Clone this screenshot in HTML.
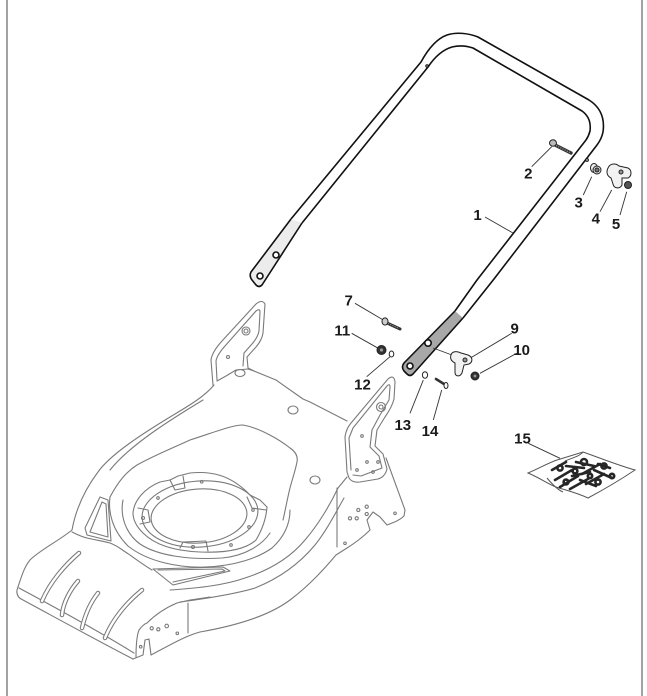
<!DOCTYPE html>
<html><head><meta charset="utf-8">
<style>
html,body{margin:0;padding:0;background:#fff;}
svg{display:block;}
text{font-family:"Liberation Sans",Arial,sans-serif;font-weight:bold;font-size:15px;fill:#1a1a1a;}
</style></head><body>
<svg width="647" height="696" viewBox="0 0 647 696" xmlns="http://www.w3.org/2000/svg">
<rect width="647" height="696" fill="#fff"/>
<line x1="7" y1="0" x2="7" y2="696" stroke="#8a8a8a" stroke-width="1.6"/>
<line x1="642" y1="0" x2="642" y2="696" stroke="#8a8a8a" stroke-width="1.6"/>

<!-- DECK -->
<g fill="none" stroke="#7a7a7a" stroke-width="1.1" stroke-linejoin="round" stroke-linecap="round">
  <!-- left bracket -->
  <path d="M213,385 L211,360 Q212,352 222,341 L256,304 Q262,299 265,304 L263,333 Q262,340 256,347 L247,357 L248,368 L254,371"/>
  <path d="M217,380 L216,361 Q217,355 225,346 L256,311 Q260,308 260,312 L259,331 Q258,337 252,344 L244,353 L243,366"/>
  <circle cx="246" cy="331" r="4"/><circle cx="246" cy="331" r="2"/>
  <circle cx="228" cy="357" r="1.5"/>
  <!-- rear edge -->
  <path d="M217,381 L226,376 L236,370 L248,369 L254,371 L276,380 L303,399 L310,402 L347,421"/>
  <ellipse cx="240" cy="373" rx="5" ry="3.5"/>
  <ellipse cx="293" cy="410" rx="5" ry="4"/>
  <ellipse cx="315" cy="480" rx="5" ry="4"/>
  <!-- left outer rim -->
  <path d="M214,385 C205,396 190,405 175,414 C140,435 110,455 98,472 C86,488 76,508 72,530 C60,540 40,550 30,560 C24,567 21,578 17,590"/>
  <path d="M203,400 C170,420 130,445 110,470"/>
  <!-- front lip -->
  <path d="M17,590 Q16,597 23,600 C60,620 100,642 133,659"/>
  <path d="M19,588 C60,610 100,632 134,653"/>
  <!-- front-right lower edge & skirt -->
  <path d="M133,659 L143,655 L145,640 L149,639 L151,655 C170,645 185,636 200,632 C240,625 270,615 290,600 C310,585 325,568 336,555 L347,548 C355,543 362,538 370,530 L367,520 L373,512 L380,517 L387,525 C395,522 400,520 404,516 L405,510 L386,458"/>
  <path d="M337,488 L337,547"/>
  <path d="M188,603 L188,633"/>
  <path d="M136,657 C136,645 137,635 139,630 C142,626 144,624 147,623 C155,615 165,608 177,603 L190,600 L210,597"/>
  <path d="M72,532 C78,535 82,537 87,538 C95,540 103,541 110,543 C118,546 122,550 127,553 C137,560 145,566 152,570"/>
  <!-- rim curves -->
  <path d="M170,590 C200,588 225,585 245,578 C270,570 290,558 305,540 C318,525 330,505 338,488 L347,477"/>
  <path d="M180,602 C210,598 235,594 255,588 C280,578 300,563 315,545 C327,530 336,512 344,498"/>
  <!-- bowl -->
  <path d="M110,497 C118,482 126,472 137,465 C155,455 175,447 190,440 C215,432 232,425 243,425 C260,428 280,440 290,448 C296,452 298,457 297,462 C295,472 292,480 290,488 C287,500 285,512 283,520"/>
  <path d="M110,497 C108,512 112,530 128,546 C148,562 180,568 205,567 C235,566 258,558 272,548 C283,538 290,525 290,510"/>
  <path d="M123,500 C120,515 125,533 140,544 C158,556 190,560 222,558 C245,556 262,545 270,533"/>
  <!-- ring -->
  <path d="M133,513 C134,500 145,488 160,482 L170,480 L178,476 L190,473 C210,471 230,474 250,495 L260,500 L267,507 C266,520 262,530 256,540 C245,550 225,553 200,552 C175,551 155,545 143,533 C136,526 133,520 133,513 Z"/>
  <ellipse cx="200" cy="514" rx="58" ry="33" transform="rotate(-4 200 514)"/>
  <ellipse cx="199" cy="516" rx="48" ry="27" transform="rotate(-4 199 516)"/>
  <path d="M170,480 L175,490 L185,488 L183,476"/>
  <path d="M247,497 L252,508 L266,510"/>
  <path d="M180,548 L183,542 L206,541 L208,551"/>
  <path d="M138,508 L148,510 L150,522 L140,524"/>
  <circle cx="201.7" cy="481.7" r="1.3"/><circle cx="253" cy="510" r="1.3"/><circle cx="249" cy="527" r="1.3"/>
  <circle cx="231" cy="545" r="1.3"/><circle cx="158" cy="498" r="1.3"/><circle cx="193" cy="547" r="1.5"/><circle cx="143" cy="518" r="1.5"/>
  <!-- front vent -->
  <path d="M153,569 L223,567 L230,571 L173,585 Z"/>
  <path d="M158,570 L222,569 L225,571 L173,582"/>
  <!-- left vent -->
  <path d="M100,497 L108,500 L111,541 L87,535 L85,528 Z"/>
  <path d="M102,502 L106,504 L108,537 L90,532 Z"/>
  <!-- holes -->
  <circle cx="151.7" cy="628.3" r="1.6"/><circle cx="158.3" cy="629.3" r="1.6"/><circle cx="166.7" cy="626" r="1.8"/>
  <circle cx="140.7" cy="646.7" r="1.3"/><circle cx="177.3" cy="633.3" r="1.3"/><circle cx="345" cy="543.3" r="1.3"/>
  <circle cx="395" cy="513.3" r="1.3"/>
  <circle cx="350" cy="518.3" r="1.6"/><circle cx="356.7" cy="518.3" r="1.6"/><circle cx="358.3" cy="510" r="1.6"/><circle cx="366.7" cy="506.7" r="1.6"/><circle cx="366.7" cy="514" r="1.6"/>
  <!-- right bracket -->
  <path d="M347,472 L345,437 Q346,429 351,423 L388,379 Q394,374 395,382 L394,399 Q392,407 385,417 L377,430 L375,446 L383,454 L387,469 Q385,477 378,479 L360,482 Q352,483 349,478 Z" fill="#fff"/>
  <path d="M351,470 L349,438 L353,428 L387,386 Q390,383 390,387 L389,400 L380,415 L372,430 L370,447 L379,456 L382,468 L361,476 L353,475"/>
  <circle cx="381" cy="407" r="4.5"/><circle cx="381" cy="407" r="2"/>
  <circle cx="362" cy="436" r="1.3"/><circle cx="367" cy="462" r="1.3"/><circle cx="378" cy="462" r="1.3"/><circle cx="357" cy="470" r="1.3"/><circle cx="373" cy="472" r="1.3"/>
</g>
<!-- slots -->
<g fill="none" stroke-linecap="round">
  <g stroke="#7a7a7a" stroke-width="4.5">
    <path d="M79,553 C65,565 50,582 42,601"/>
    <path d="M78,581 C70,590 63,603 62,615"/>
    <path d="M98,593 C90,603 85,615 82,628"/>
    <path d="M142,590 C126,603 112,620 105,638"/>
  </g>
  <g stroke="#fff" stroke-width="2.4">
    <path d="M79,553 C65,565 50,582 42,601"/>
    <path d="M78,581 C70,590 63,603 62,615"/>
    <path d="M98,593 C90,603 85,615 82,628"/>
    <path d="M142,590 C126,603 112,620 105,638"/>
  </g>
</g>

<!-- HANDLE -->
<g fill="none" stroke="#111" stroke-width="1.6" stroke-linejoin="round">
  <path d="M291,219 L421,62 C427,51 436,39 447,35 C456,32 468,33 478,37 L589,100 C600,107 605,118 603,132 C602,137 600,141 597,145 L494,279 L463,318"/>
  <path d="M302,223 L428,67 C434,58 442,50 452,47 C460,45 467,46 473,48 L582,111 C589,116 591,123 590,131 C589,135 588,137 586,140 L477,280 L455,311"/>
  <path d="M291,219 L251,272 Q249,276 252,280 L256,285 Q259,288 262,285 L302,223" fill="#ececec"/>
  <circle cx="276" cy="255" r="3" fill="#fff"/>
  <circle cx="260" cy="276" r="3" fill="#fff"/>
  <path d="M455,311 L404,363 Q401,367 404,371 L407,374 Q410,377 413,374 L463,318" fill="#a8a8a8"/>
  <circle cx="428" cy="343" r="3.2" fill="#fff"/>
  <circle cx="410" cy="366" r="3" fill="#fff"/>
  <circle cx="587" cy="160" r="1.5" fill="#888" stroke-width="0.8"/>
  <circle cx="427" cy="66" r="1.3" fill="#888" stroke-width="0.8"/>
</g>

<!-- leaders -->
<g stroke="#333" stroke-width="0.9" fill="none">
  <line x1="485" y1="217" x2="513" y2="233"/>
  <line x1="531.7" y1="166.7" x2="551.7" y2="146.7"/>
  <line x1="583.3" y1="195" x2="591.7" y2="176.7"/>
  <line x1="600" y1="211.7" x2="611.7" y2="190"/>
  <line x1="620" y1="215" x2="626.7" y2="191.7"/>
  <line x1="355" y1="303.3" x2="383.3" y2="320"/>
  <line x1="351.7" y1="333.3" x2="378.3" y2="348.3"/>
  <line x1="366.7" y1="376.7" x2="390" y2="356.7"/>
  <line x1="511.7" y1="333.3" x2="470" y2="358.3"/>
  <line x1="516.7" y1="353.3" x2="480" y2="373.3"/>
  <line x1="410" y1="413.3" x2="423.3" y2="380"/>
  <line x1="433.3" y1="420" x2="441.7" y2="390"/>
  <line x1="528.3" y1="443.3" x2="560" y2="458.3"/>
  <line x1="433" y1="348" x2="452" y2="355"/>
</g>

<!-- small parts -->
<g stroke="#222" stroke-width="1">
  <line x1="555" y1="145" x2="571" y2="153" stroke="#333" stroke-width="3.4" stroke-linecap="round"/>
  <line x1="556" y1="145.5" x2="570" y2="152.5" stroke="#aaa" stroke-width="1" stroke-dasharray="1.2 1.2"/>
  <ellipse cx="553" cy="143" rx="3.5" ry="3.2" fill="#bbb"/>
  <ellipse cx="594" cy="168" rx="3.5" ry="4.5" fill="#eee"/>
  <circle cx="597" cy="170" r="4" fill="#ddd"/>
  <circle cx="597" cy="170" r="2" fill="#777"/>
  <path d="M608,168 C610,163 616,163 619,166 L628,168 C632,170 632,176 628,178 L622,178 L622,185 C620,189 614,189 613,184 L611,178 C607,176 606,172 608,168 Z" fill="#f2f2f2"/>
  <circle cx="621" cy="172" r="2" fill="#999"/>
  <circle cx="628" cy="185" r="3.5" fill="#555"/>
  <line x1="387" y1="323" x2="400" y2="329" stroke="#333" stroke-width="3" stroke-linecap="round"/>
  <line x1="388" y1="323.5" x2="399" y2="328.5" stroke="#aaa" stroke-width="0.9" stroke-dasharray="1.2 1.2"/>
  <ellipse cx="385" cy="321.5" rx="3" ry="3.6" fill="#ccc"/>
  <circle cx="381.5" cy="350" r="4.5" fill="#333"/>
  <circle cx="381.5" cy="350" r="1.6" fill="#999" stroke="none"/>
  <ellipse cx="391.5" cy="354" rx="2.3" ry="3" fill="#fff"/>
  <ellipse cx="425" cy="375" rx="2.6" ry="3.2" fill="#fff"/>
  <line x1="436" y1="379" x2="444" y2="384" stroke="#333" stroke-width="2.6" stroke-linecap="round"/>
  <ellipse cx="446" cy="385.5" rx="2" ry="3" fill="#fff"/>
  <path d="M451,355 C452,351 457,351 461,353 L468,355 C473,357 473,362 469,364 L464,365 L462,373 C460,377 455,377 455,372 L455,363 C451,361 450,358 451,355 Z" fill="#f2f2f2"/>
  <circle cx="465" cy="360" r="2" fill="#999"/>
  <circle cx="475" cy="376" r="4" fill="#333"/>
  <circle cx="475" cy="376" r="1.4" fill="#999" stroke="none"/>
</g>

<!-- 15 bag -->
<g fill="none" stroke="#555" stroke-width="1">
  <path d="M528,473 C540,468 548,463 557,460 L583,452 C600,458 620,466 635,470 C620,480 603,490 588,498 C575,492 565,490 556,487 C548,484 540,478 528,473 Z"/>
  <path d="M547,478 C552,484 558,490 563,492"/>
  <path d="M583,452 C580,456 572,458 565,461"/>
</g>
<g stroke="#262626" stroke-width="2.6" stroke-linecap="round" fill="none">
  <path d="M552,470 L566,462"/>
  <path d="M555,480 L572,470"/>
  <path d="M560,487 L578,476"/>
  <path d="M570,489 L588,479"/>
  <path d="M566,466 L584,468"/>
  <path d="M576,462 L594,466"/>
  <path d="M582,474 L600,464"/>
  <path d="M586,484 L604,474"/>
  <path d="M594,470 L612,478"/>
  <path d="M598,464 L610,468"/>
  <path d="M572,476 L590,472"/>
  <path d="M580,480 L596,486"/>
  <circle cx="584" cy="462" r="3"/>
  <circle cx="604" cy="466" r="2.6"/>
  <circle cx="560" cy="468" r="2.6"/>
  <circle cx="598" cy="482" r="2.6"/>
  <circle cx="575" cy="471" r="2.4"/>
  <circle cx="612" cy="476" r="2.2"/>
  <circle cx="566" cy="482" r="2.4"/>
  <circle cx="590" cy="476" r="2.2"/>
</g>

<!-- labels -->
<g text-anchor="middle">
  <text x="477.5" y="220">1</text>
  <text x="528.3" y="178.3">2</text>
  <text x="578.7" y="207.3">3</text>
  <text x="595.8" y="223.3">4</text>
  <text x="616" y="229">5</text>
  <text x="348.7" y="305.7">7</text>
  <text x="342.3" y="335.7">11</text>
  <text x="362.5" y="389.3">12</text>
  <text x="514.7" y="333.3">9</text>
  <text x="521.7" y="355">10</text>
  <text x="402.8" y="430">13</text>
  <text x="430" y="436">14</text>
  <text x="522.5" y="443.5">15</text>
</g>
</svg>
</body></html>
